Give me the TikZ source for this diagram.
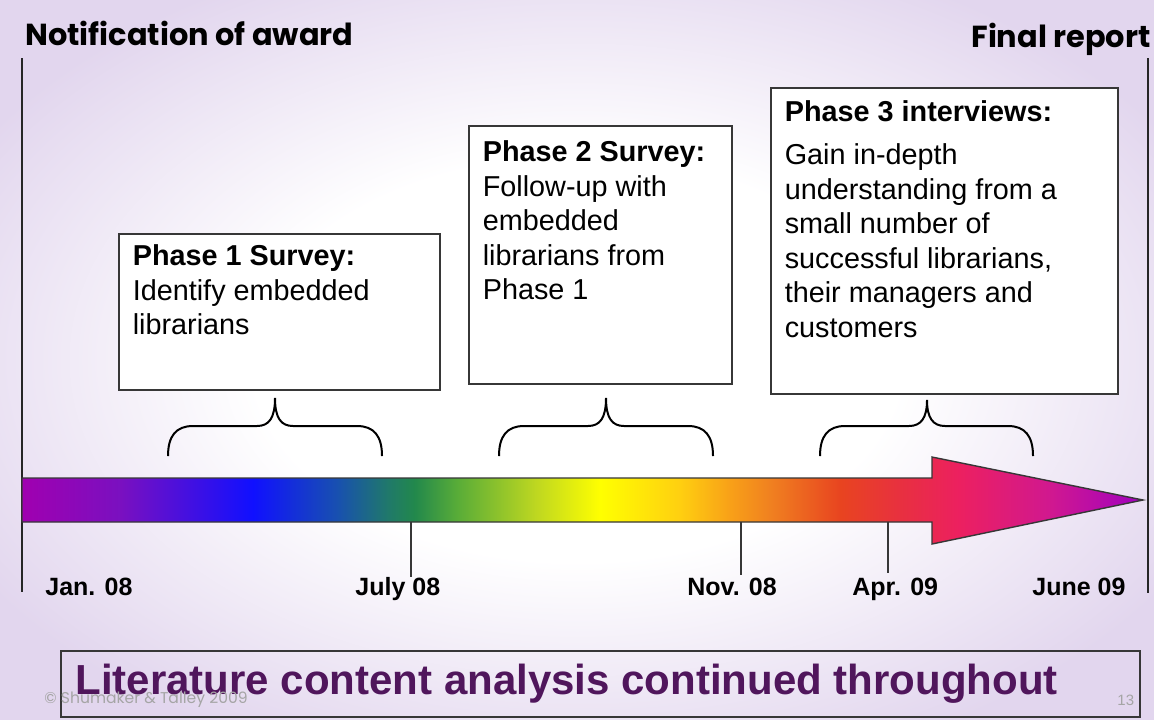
\documentclass[tikz,border=0pt]{standalone}
\usepackage{fontspec}
\setmainfont{Liberation Sans}
\newfontfamily\gothic{Poppins}
\usepackage{xcolor}
\usepackage{tikz}
\usetikzlibrary{positioning}
\definecolor{bglilac}{RGB}{226, 214, 238}
\definecolor{framegray}{RGB}{55, 55, 55}
\definecolor{litpurple}{RGB}{80, 22, 92}
\definecolor{notegray}{RGB}{165, 165, 165}
\definecolor{rb0}{RGB}{160, 0, 176}
\definecolor{rb1}{RGB}{122, 16, 192}
\definecolor{rb2}{RGB}{16, 16, 255}
\definecolor{rb3}{RGB}{24, 80, 176}
\definecolor{rb4}{RGB}{32, 122, 104}
\definecolor{rb5}{RGB}{34, 136, 76}
\definecolor{rb6}{RGB}{88, 172, 56}
\definecolor{rb7}{RGB}{192, 216, 32}
\definecolor{rb8}{RGB}{255, 255, 0}
\definecolor{rb9}{RGB}{255, 208, 16}
\definecolor{rb10}{RGB}{248, 160, 24}
\definecolor{rb11}{RGB}{240, 128, 32}
\definecolor{rb12}{RGB}{232, 68, 32}
\definecolor{rb13}{RGB}{232, 48, 64}
\definecolor{rb14}{RGB}{236, 32, 96}
\definecolor{rb15}{RGB}{208, 24, 144}
\definecolor{rb16}{RGB}{160, 0, 192}
\pgfdeclarehorizontalshading{rainbowbar}{100bp}{color(0bp)=(rb0); color(25bp)=(rb0);
  color(29.4bp)=(rb1); color(35.3bp)=(rb2); color(39.05bp)=(rb3); color(41.4bp)=(rb4);
  color(42.5bp)=(rb5); color(44.4bp)=(rb6); color(48bp)=(rb7); color(50.8bp)=(rb8);
  color(54.3bp)=(rb9); color(56.6bp)=(rb10); color(58.4bp)=(rb11); color(61.5bp)=(rb12);
  color(64.2bp)=(rb13); color(66.8bp)=(rb14); color(70.9bp)=(rb15); color(75bp)=(rb16);
  color(100bp)=(rb16)}
\pgfdeclareradialshading{slidebg}{\pgfpoint{0bp}{0bp}}{color(0bp)=(white); color(14bp)=(white);
  color(30bp)=(bglilac); color(50bp)=(bglilac)}

\begin{document}
\begin{tikzpicture}[x=0.5pt, y=-0.5pt,
    headtext/.style={anchor=base west, inner sep=0pt, font=\gothic\bfseries\fontsize{15.2}{17}\selectfont},
    phasebox/.style={draw=framegray, line width=0.6pt, fill=white},
    phasetext/.style={anchor=north west, align=left, inner xsep=7pt, font=\fontsize{14.4}{17.25}\selectfont},
    datetext/.style={anchor=base west, inner sep=0pt, font=\bfseries\fontsize{12.5}{14}\selectfont},
    tickline/.style={draw=framegray, line width=0.6pt},
    edgeline/.style={draw=black!85, line width=0.75pt},
    curly/.style={draw=black, line width=1pt}]
    % slide background
    \shade[shading=slidebg] (0,0) rectangle (1154,719);

    % start and end
    \node[headtext] (award) at (25,45) {Notification of award};
    \node[headtext, anchor=base east] (report) at (1151,47) {Final report};
    \draw[edgeline] (22,58) -- (22,592);
    \draw[edgeline] (1148,58) -- (1148,593);

    % phases
    \node[phasebox, minimum width=160.5pt, minimum height=78pt] (box1) at (279.5,312) {};
    \node[phasetext, inner ysep=5.5pt] (txt1) at (box1.north west) {\textbf{Phase 1 Survey:}\\Identify embedded\\librarians};
    \node[phasebox, minimum width=131.5pt, minimum height=129pt] (box2) at (600.5,255) {};
    \node[phasetext, inner ysep=7.5pt] (txt2) at (box2.north west) {\textbf{Phase 2 Survey:}\\Follow-up with\\embedded\\librarians from\\Phase 1};
    \node[phasebox, minimum width=173.5pt, minimum height=153pt] (box3) at (944.5,241) {};
    \node[phasetext, inner ysep=6.5pt] (txt3) at (box3.north west) {\textbf{Phase 3 interviews:}\\[4.25pt]Gain in-depth\\understanding from a\\small number of\\successful librarians,\\their managers and\\customers};

    % braces
    \draw[curly] (168,456) .. controls (168,436) and (176,426) .. (193,426) -- (257,426)
        .. controls (269,426) and (275,418) .. (275,398) .. controls (275,418) and (281,426) .. (293,426)
        -- (357,426) .. controls (374,426) and (382,436) .. (382,456);
    \draw[curly] (499,456) .. controls (499,436) and (507,426) .. (524,426) -- (588,426)
        .. controls (600,426) and (606,418) .. (606,398) .. controls (606,418) and (612,426) .. (624,426)
        -- (688,426) .. controls (705,426) and (713,436) .. (713,456);
    \draw[curly] (820,456) .. controls (820,436) and (828,426) .. (845,426) -- (909,426)
        .. controls (921,426) and (927,418) .. (927,400) .. controls (927,418) and (933,426) .. (945,426)
        -- (1008,426) .. controls (1025,426) and (1033,436) .. (1033,456);

    % time arrow
    \shadedraw[shading=rainbowbar, draw=framegray, line width=0.7pt]
        (22,478) -- (932,478) -- (932,457) -- (1143,500) -- (932,544) -- (932,522) -- (22,522) -- cycle;
    \draw[tickline] (411,522) -- (411,577);
    \draw[tickline] (741,522) -- (741,575);
    \draw[tickline] (888,522) -- (888,573);
    \node[datetext] (jan) at (45,595) {Jan. 08};
    \node[datetext] (jul) at (355,595) {July 08};
    \node[datetext] (nov) at (687,595) {Nov. 08};
    \node[datetext] (apr) at (852,595) {Apr. 09};
    \node[datetext] (jun) at (1032,595) {June 09};

    % literature
    \node[draw=framegray, line width=0.7pt, minimum width=539.5pt, minimum height=33pt] (litbox) at (600.5,684) {};
    \node[anchor=base west, inner sep=0pt, text=litpurple, font=\bfseries\fontsize{21}{24}\selectfont] (lit) at (75,694) {Literature content analysis continued throughout};
    \node[anchor=base west, inner sep=0pt, text=notegray, font=\gothic\fontsize{7.8}{9}\selectfont] (copy) at (44,703) {© Shumaker \& Talley 2009};
    \node[anchor=base west, inner sep=0pt, text=notegray, font=\fontsize{7.5}{9}\selectfont] (page) at (1117,705) {13};
\end{tikzpicture}
\end{document}
